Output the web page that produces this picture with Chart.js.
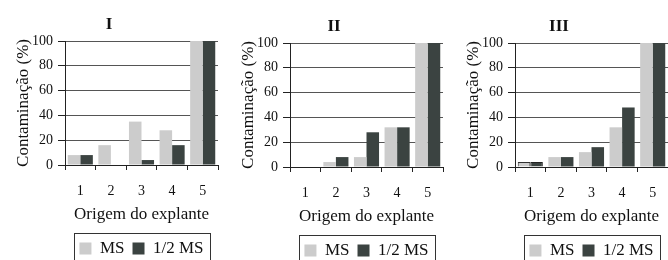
<!DOCTYPE html>
<html>
<head>
<meta charset="utf-8">
<script src="https://cdn.jsdelivr.net/npm/chart.js@4/dist/chart.umd.min.js"></script>
<style>
  html, body { margin:0; padding:0; background:#fff; }
  body { width:668px; height:260px; overflow:hidden; position:relative; }
  canvas { position:absolute; }
</style>
</head>
<body>
<canvas id="c1" width="223" height="267" style="left:0px;top:0px"></canvas>
<canvas id="c2" width="223" height="267" style="left:225px;top:2px"></canvas>
<canvas id="c3" width="223" height="267" style="left:450px;top:2px"></canvas>
<script>
const categories = ['1', '2', '3', '4', '5'];
const panelTitles = ['I', 'II', 'III'];
const seriesNames = ['MS', '1/2 MS'];
const msI = [8, 16, 35, 28, 100];
const halfI = [8, 0, 4, 16, 100];
const msII = [0, 4, 8, 32, 100];
const halfII = [0, 8, 28, 32, 100];
const msIII = [4, 8, 12, 32, 100];
const halfIII = [4, 8, 16, 48, 100];
const yTicks = [0, 20, 40, 60, 80, 100];
const xTitle = 'Origem do explante';
const yTitle = 'Contaminação (%)';

Chart.defaults.font.family = "'Liberation Serif', 'Times New Roman', serif";
Chart.defaults.color = '#111';

const legendPlugin = {
  id: 'legendBox',
  afterLayout(chart) {
    const lg = chart.legend, ca = chart.chartArea;
    if (!lg) return;
    const dx = (ca.left + ca.right) / 2 - (lg.left + lg.right) / 2;
    lg.left += dx; lg.right += dx;
  },
  afterDraw(chart) {
    const lg = chart.legend;
    if (!lg || !lg.legendHitBoxes.length) return;
    const hb = lg.legendHitBoxes;
    const last = hb[hb.length - 1];
    const left = Math.round(hb[0].left - 5);
    const right = Math.round(last.left + last.width + 6);
    const top = Math.round(hb[0].top - 7);
    const ctx = chart.ctx;
    ctx.save();
    ctx.strokeStyle = '#333';
    ctx.lineWidth = 1;
    ctx.strokeRect(left + 0.5, top + 0.5, right - left, chart.height - top + 10);
    ctx.restore();
  }
};

function makePanel(id, title, ms, half, outlineFirst) {
  const border = (c) => (outlineFirst && c.dataIndex === 0) ? 1 : 0;
  new Chart(document.getElementById(id), {
    type: 'bar',
    data: {
      labels: categories,
      datasets: [
        { label: seriesNames[0], data: ms, backgroundColor: '#cccccc', borderColor: '#333', borderWidth: border, borderSkipped: 'bottom' },
        { label: seriesNames[1], data: half, backgroundColor: '#3b4341', borderColor: '#222', borderWidth: border, borderSkipped: 'bottom' }
      ]
    },
    options: {
      responsive: false,
      animation: false,
      events: [],
      layout: { padding: { left: 0, right: 5, top: 0, bottom: 0 } },
      datasets: { bar: { categoryPercentage: 0.82, barPercentage: 1.0 } },
      plugins: {
        title: {
          display: true, text: title, color: '#111',
          font: { size: 17, weight: 'bold' },
          padding: { top: 14, bottom: 6.6 }
        },
        legend: {
          display: true, position: 'bottom',
          labels: {
            boxWidth: 12, boxHeight: 12, padding: 8, color: '#111',
            font: { size: 17 },
            generateLabels(chart) {
              return chart.data.datasets.map((ds, i) => ({
                text: ds.label,
                fillStyle: ds.backgroundColor,
                strokeStyle: ds.backgroundColor,
                lineWidth: 0,
                hidden: false,
                datasetIndex: i,
                fontColor: '#111'
              }));
            }
          }
        },
        tooltip: { enabled: false }
      },
      scales: {
        x: {
          grid: { display: true, offset: true, drawOnChartArea: false, tickLength: 5, tickColor: '#222', color: '#222' },
          border: { color: '#222', width: 1 },
          ticks: { font: { size: 14 }, color: '#111', padding: 13, maxRotation: 0 },
          title: { display: true, text: xTitle, color: '#111', font: { size: 17 }, padding: { top: 0, bottom: 7 } },
          afterFit(s) { s.height = 67; }
        },
        y: {
          min: 0, max: 100,
          afterBuildTicks(s) { s.ticks = yTicks.map(v => ({ value: v })); },
          grid: { color: '#555', tickLength: 7, tickColor: '#222', lineWidth: 1 },
          border: { color: '#222', width: 1 },
          ticks: { font: { size: 14 }, color: '#111', padding: 5 },
          title: { display: true, text: yTitle, color: '#111', font: { size: 17 }, padding: { top: 13, bottom: 0 } },
          afterFit(s) { s.width = 65; }
        }
      }
    },
    plugins: [legendPlugin]
  });
}

makePanel('c1', panelTitles[0], msI, halfI, false);
makePanel('c2', panelTitles[1], msII, halfII, false);
makePanel('c3', panelTitles[2], msIII, halfIII, true);
</script>
</body>
</html>
